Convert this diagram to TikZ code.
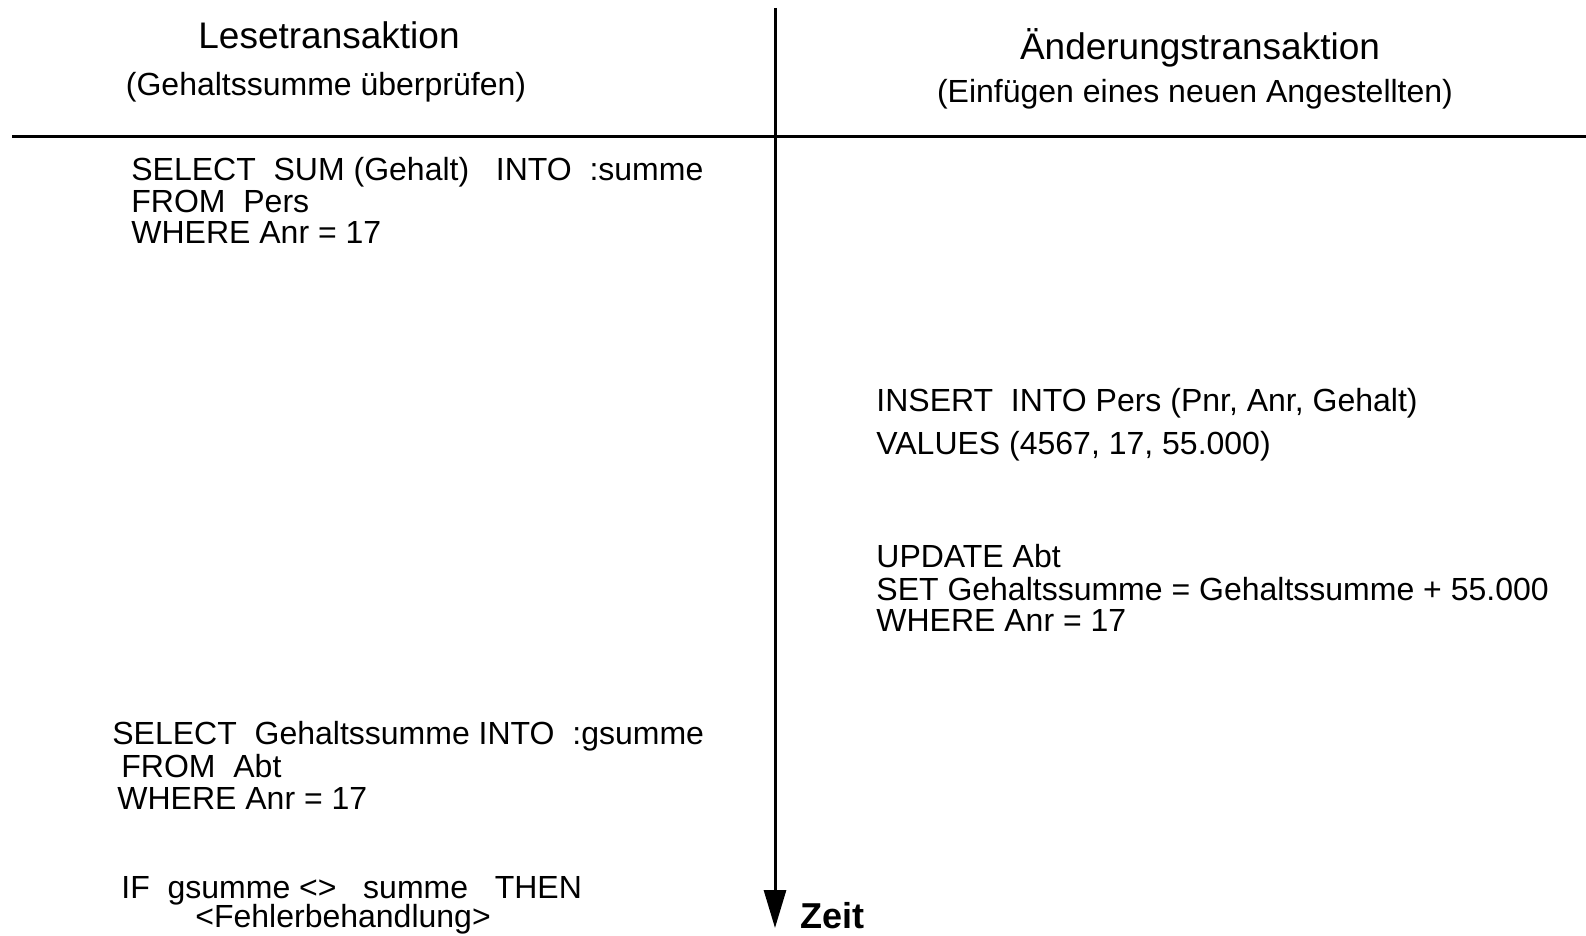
\documentclass[tikz,border=0pt]{standalone}
\usepackage{fontspec}
\setmainfont{Liberation Sans}
\usetikzlibrary{arrows.meta}
\begin{document}
% one unit = one pixel of the 1586 x 936 sheet, y pointing down
\begin{tikzpicture}[x=0.5pt,y=-0.5pt,
  rule/.style={line width=1.5pt},
  head/.style={inner sep=0pt,anchor=base,font=\fontsize{18.5}{22}\selectfont},
  sub/.style={inner sep=0pt,anchor=base,font=\fontsize{16}{19}\selectfont},
  code/.style={inner sep=0pt,anchor=base west,font=\fontsize{16}{19}\selectfont},
  timelabel/.style={inner sep=0pt,anchor=base west,font=\fontsize{18}{22}\selectfont\bfseries}]
\useasboundingbox (0,0) rectangle (1586,936);

% column headings
\node[head] (readhead) at (329,49) {Lesetransaktion};
\node[sub]  (readsub)  at (326,96) {(Gehaltssumme überprüfen)};
\node[head] (writehead) at (1200,60) {Änderungstransaktion};
\node[sub]  (writesub)  at (1195,103) {(Einfügen eines neuen Angestellten)};

% separating rule and time axis
\coordinate (ruleL) at (12,137);
\coordinate (ruleR) at (1586,137);
\draw[rule] (ruleL) -- (ruleR);
\coordinate (timetop) at (775,8);
\coordinate (timeend) at (775,928);
\draw[rule,-{Triangle[width=11pt,length=19pt]}] (timetop) -- (timeend);
\node[timelabel] (zeit) at (800,928) {Zeit};

% read transaction, first query
\node[code] (r1a) at (131,181) {SELECT~~SUM (Gehalt)~~~INTO~~:summe};
\node[code] (r1b) at (131,213) {FROM~~Pers};
\node[code] (r1c) at (131,244) {WHERE Anr = 17};

% update transaction
\node[code] (w1a) at (876,411) {INSERT~~INTO Pers (Pnr, Anr, Gehalt)};
\node[code] (w1b) at (876,454) {VALUES (4567, 17, 55.000)};
\node[code] (w2a) at (876,567) {UPDATE Abt};
\node[code] (w2b) at (876,600) {SET Gehaltssumme = Gehaltssumme + 55.000};
\node[code] (w2c) at (876,631) {WHERE Anr = 17};

% read transaction, second query and check
\node[code] (r2a) at (112,744) {SELECT~~Gehaltssumme INTO~~:gsumme};
\node[code] (r2b) at (121,777) {FROM~~Abt};
\node[code] (r2c) at (117,809) {WHERE Anr = 17};
\node[code] (r3a) at (121,898) {IF~~gsumme <>~~~summe~~~THEN};
\node[code] (r3b) at (195,927) {<Fehlerbehandlung>};
\end{tikzpicture}
\end{document}
